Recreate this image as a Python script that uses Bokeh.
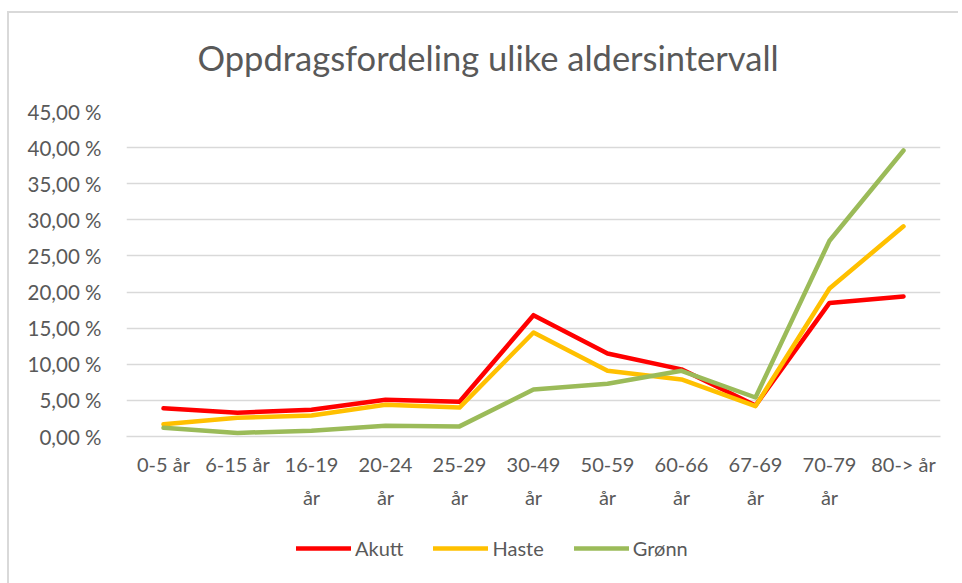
from bokeh.plotting import figure
from bokeh.layouts import column
from bokeh.models import (Range1d, FixedTicker, CustomJSTickFormatter,
                          Legend, LegendItem, ColumnDataSource, LinearAxis)
from bokeh.embed import file_html
from bokeh.resources import INLINE

categories = ["0-5 år", "6-15 år", "16-19 år", "20-24 år", "25-29 år", "30-49 år",
              "50-59 år", "60-66 år", "67-69 år", "70-79 år", "80-> år"]
label_line1 = ["0-5 år", "6-15 år", "16-19", "20-24", "25-29", "30-49",
               "50-59", "60-66", "67-69", "70-79", "80-> år"]
label_line2 = ["", "", "år", "år", "år", "år", "år", "år", "år", "år", ""]
akutt = [3.9, 3.3, 3.7, 5.1, 4.8, 16.8, 11.5, 9.3, 4.3, 18.5, 19.4]
haste = [1.7, 2.6, 2.9, 4.4, 4.0, 14.4, 9.1, 7.9, 4.2, 20.5, 29.1]
gronn = [1.2, 0.5, 0.8, 1.5, 1.4, 6.5, 7.3, 9.1, 5.4, 27.1, 39.6]
series_names = ["Akutt", "Haste", "Grønn"]
colors = ["#FF0000", "#FFC000", "#9BBB59"]
y_ticks = [0, 5, 10, 15, 20, 25, 30, 35, 40, 45]

FONT = "Lato"
GREY = "#595959"
BORDER = "#D9D9D9"

xpos = list(range(len(categories)))
series = [akutt, haste, gronn]

main = figure(frame_width=814, frame_height=325,
              x_range=Range1d(-0.5, len(categories) - 0.5),
              y_range=Range1d(0, 45), output_backend="svg", toolbar_location=None,
              min_border_left=126, min_border_right=18, min_border_top=111,
              min_border_bottom=80)
main.title.text = "Oppdragsfordeling ulike aldersintervall"
main.title.align = "left"
main.title.offset = 71
main.title.text_font = FONT
main.title.text_font_size = "34.5px"
main.title.text_font_style = "normal"
main.title.text_color = GREY
main.title.standoff = 68

main.outline_line_color = None
main.background_fill_color = "white"
main.border_fill_alpha = 0
main.styles = {
    "background": f"linear-gradient({BORDER}, {BORDER}) 7px 11px / 2px 100% no-repeat, "
                  f"linear-gradient({BORDER}, {BORDER}) 7px 11px / 100% 2px no-repeat, white"
}

main.xgrid.grid_line_color = None
main.ygrid.grid_line_color = BORDER
main.ygrid.grid_line_width = 1.5
main.ygrid.ticker = FixedTicker(ticks=y_ticks)

main.yaxis.ticker = FixedTicker(ticks=y_ticks)
main.yaxis.formatter = CustomJSTickFormatter(
    code="return tick.toFixed(2).replace('.', ',') + ' %';")
main.yaxis.axis_line_color = None
main.yaxis.major_tick_line_color = None
main.yaxis.minor_tick_line_color = None
main.yaxis.major_label_text_font = FONT
main.yaxis.major_label_text_font_size = "20.5px"
main.yaxis.major_label_text_color = GREY
main.yaxis.major_label_standoff = 19

main.xaxis.ticker = FixedTicker(ticks=xpos)
main.xaxis.axis_line_color = BORDER
main.xaxis.axis_line_width = 1.5
main.xaxis.major_tick_line_color = None
main.xaxis.minor_tick_line_color = None
main.xaxis.major_label_text_font = FONT
main.xaxis.major_label_text_font_size = "20px"
main.xaxis.major_label_text_color = GREY
main.xaxis.major_label_standoff = 9
main.xaxis.major_label_overrides = dict(zip(xpos, label_line1))

ax2 = LinearAxis(ticker=FixedTicker(ticks=xpos), axis_line_color=None,
                 major_tick_line_color=None, minor_tick_line_color=None,
                 major_label_text_font=FONT, major_label_text_font_size="20px",
                 major_label_text_color=GREY, major_label_standoff=0,
                 major_label_overrides=dict(zip(xpos, label_line2)))
main.add_layout(ax2, "below")

for name, vals, col in zip(series_names, series, colors):
    src = ColumnDataSource(dict(x=xpos, y=vals))
    main.line("x", "y", source=src, line_color=col, line_width=4.5,
              line_join="round", line_cap="round")

# legend strip below the chart (its own lines lie outside its visible ranges)
leg = figure(width=958, height=67, x_range=Range1d(-100, -99), y_range=Range1d(-100, -99),
             output_backend="svg", toolbar_location=None,
             x_axis_type=None, y_axis_type=None,
             min_border_left=0, min_border_right=0, min_border_top=0,
             min_border_bottom=0)
leg.xgrid.grid_line_color = None
leg.ygrid.grid_line_color = None
leg.outline_line_color = None
leg.background_fill_alpha = 0
leg.border_fill_alpha = 0
leg.styles = {
    "background": f"linear-gradient({BORDER}, {BORDER}) 7px 0px / 2px 100% no-repeat, white"
}
items = []
for name, vals, col in zip(series_names, series, colors):
    src = ColumnDataSource(dict(x=xpos, y=vals))
    r = leg.line("x", "y", source=src, line_color=col, line_width=4.5, line_cap="round")
    items.append(LegendItem(label=name, renderers=[r]))
legend = Legend(items=items, orientation="horizontal", location=(170, 23),
                label_text_font=FONT, label_text_font_size="20px",
                label_text_color=GREY, glyph_width=55, glyph_height=20,
                spacing=30, label_standoff=4, border_line_color=None,
                background_fill_alpha=0, margin=0, padding=0)
leg.add_layout(legend)

p = column(main, leg, spacing=0)

open("out.html", "w").write(file_html(p, INLINE))
